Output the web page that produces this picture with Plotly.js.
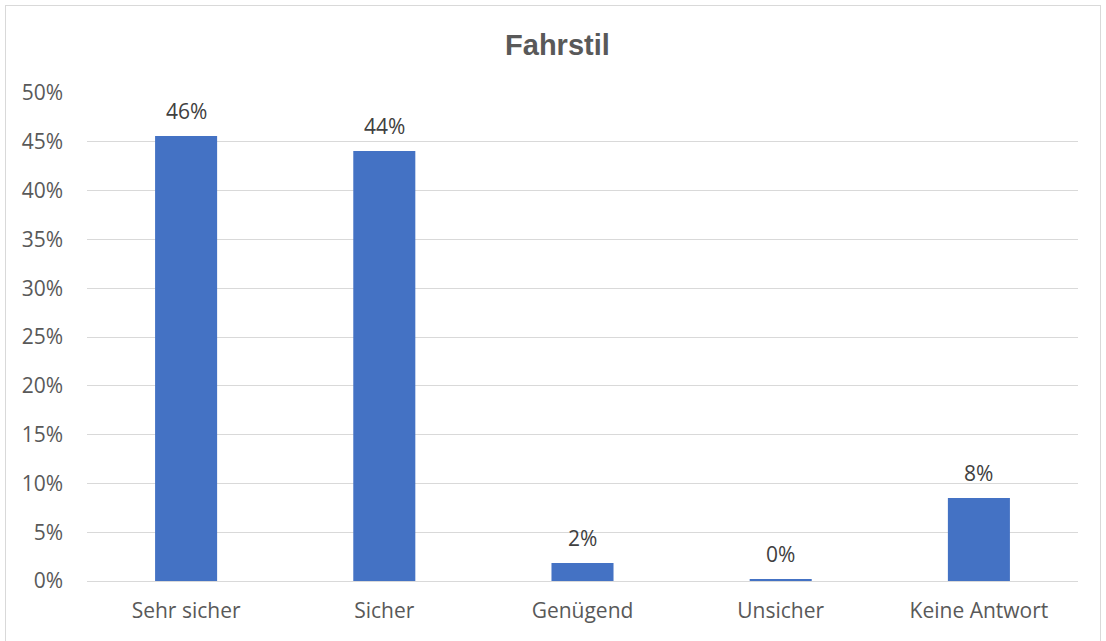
<!DOCTYPE html>
<html><head><meta charset="utf-8">
<script src="https://cdn.plot.ly/plotly-3.0.1.min.js"></script>
<style>
html,body{margin:0;padding:0;background:#fff;}
#frame{position:absolute;left:5px;top:5px;width:1096px;height:660px;border:1px solid #d9d9d9;box-sizing:border-box;}
#chart{position:absolute;left:0;top:0;width:1106px;height:641px;}
</style>
</head><body>
<div id="frame"></div>
<div id="chart"></div>
<script>
const categories = ["Sehr sicher", "Sicher", "Genügend", "Unsicher", "Keine Antwort"];
const values = [0.456, 0.4405, 0.0185, 0.002, 0.085];
const labels = ["46%", "44%", "2%", "0%", "8%"];

const trace = {
  type: "bar", x: categories, y: values,
  marker: {color: "#4472c4"},
  hoverinfo: "skip"
};
const annotations = categories.map((c, i) => ({
  x: c, y: values[i], text: labels[i], showarrow: false,
  yanchor: "bottom", yshift: 9,
  font: {family: "Open Sans, Noto Sans, sans-serif", size: 21, color: "#404040"}
}));
const layout = {
  width: 1106, height: 641,
  margin: {l: 87, r: 28, t: 93, b: 60},
  paper_bgcolor: "rgba(0,0,0,0)", plot_bgcolor: "rgba(0,0,0,0)",
  title: {text: "<b>Fahrstil</b>", x: 0.504, xanchor: "center", y: 0.93, yanchor: "middle",
    font: {family: "Liberation Sans, Arial, sans-serif", size: 29, color: "#595959"}},
  bargap: 0.687,
  showlegend: false,
  font: {family: "Open Sans, Noto Sans, sans-serif", size: 21, color: "#595959"},
  xaxis: {showline: false, ticks: "", ticklabelstandoff: 15, showgrid: false, zeroline: false},
  yaxis: {range: [0, 0.5], dtick: 0.05, tickformat: ".0%", showgrid: true, gridcolor: "#d9d9d9",
    gridwidth: 1, zeroline: true, zerolinecolor: "#d9d9d9", zerolinewidth: 1, showline: false,
    ticks: "", ticklabelstandoff: 23},
  annotations: annotations
};
Plotly.newPlot("chart", [trace], layout, {staticPlot: true, displayModeBar: false});
</script>
</body></html>
